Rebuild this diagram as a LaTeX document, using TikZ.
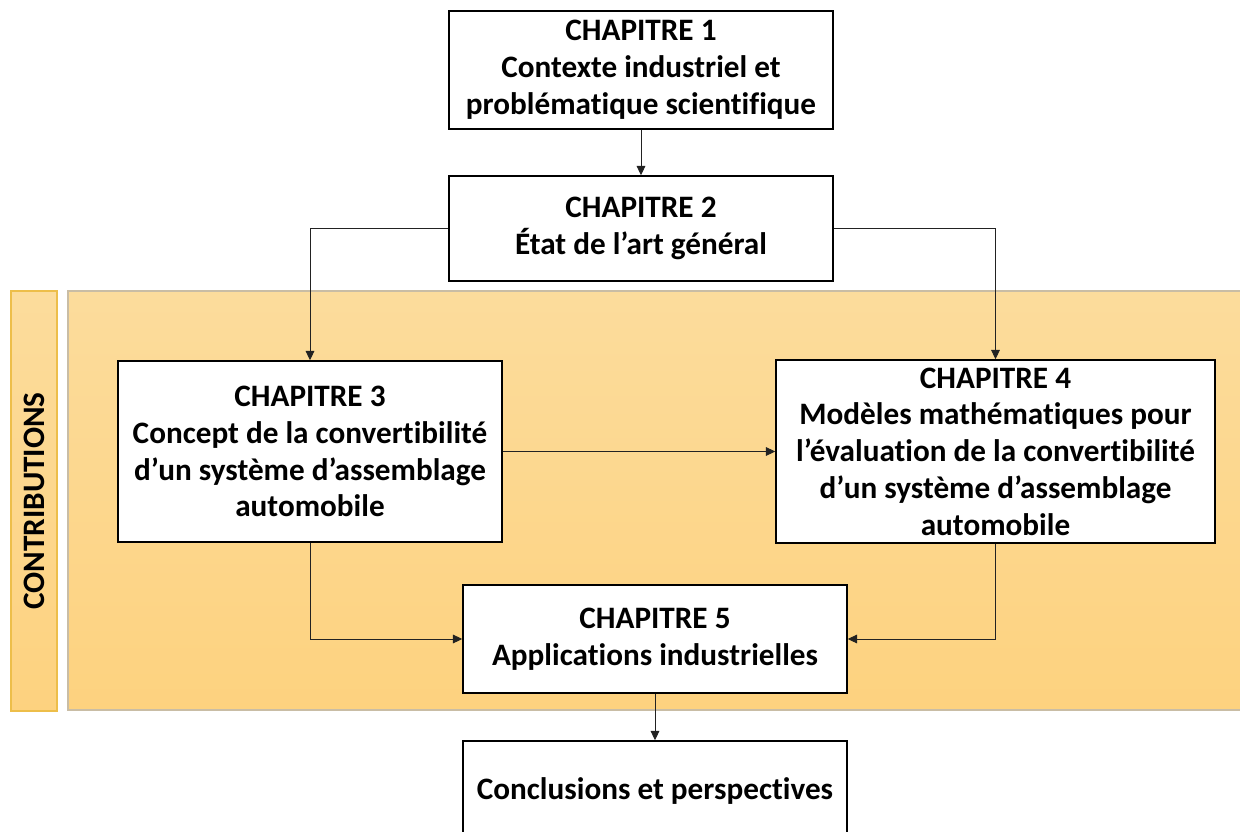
\documentclass[tikz,border=0pt]{standalone}
\usepackage{fontspec}
\setmainfont[Ligatures=NoCommon]{Carlito}
\usetikzlibrary{arrows.meta}
\definecolor{bgtop}{HTML}{FCDC9C}
\definecolor{bgbot}{HTML}{FDD27F}
\definecolor{bgedge}{HTML}{C9BDA5}
\definecolor{baredge}{HTML}{EDBE4A}
\definecolor{linec}{HTML}{222222}
\tikzset{
  chapbox/.style={draw=black, line width=1.1pt, fill=white, align=center,
    font=\fontsize{23.4pt}{27.6pt}\selectfont\bfseries, inner sep=0pt},
  arr/.style={draw=linec, line width=0.7pt, -{Triangle[length=7pt,width=6.5pt]}},
}
\begin{document}
\begin{tikzpicture}[x=0.75pt,y=-0.75pt]
\useasboundingbox (0,0) rectangle (1240,832);
\clip (0,0) rectangle (1240,832);
% background panels
\path[top color=bgtop, bottom color=bgbot, draw=bgedge, line width=0.8pt]
  (68,291) rectangle (1245,710);
\path[top color=bgtop, bottom color=bgbot, draw=baredge, line width=0.8pt]
  (11,291) rectangle (57,711);
\node[rotate=90, font=\fontsize{23.4pt}{27pt}\selectfont\bfseries] (contrib) at (34,501) {CONTRIBUTIONS};
% boxes
\node[chapbox, minimum width=384*0.75pt, minimum height=118*0.75pt] (b1) at (641,70)
  {CHAPITRE 1\\Contexte industriel et\\problématique scientifique};
\node[chapbox, minimum width=384*0.75pt, minimum height=105*0.75pt] (b2) at (641,228.5)
  {CHAPITRE 2\\État de l’art général};
\node[chapbox, minimum width=384*0.75pt, minimum height=181*0.75pt] (b3) at (310,451.5)
  {CHAPITRE 3\\Concept de la convertibilité\\d’un système d’assemblage\\automobile};
\node[chapbox, minimum width=439*0.75pt, minimum height=183*0.75pt] (b4) at (995.5,451.5)
  {CHAPITRE 4\\Modèles mathématiques pour\\l’évaluation de la convertibilité\\d’un système d’assemblage\\automobile};
\node[chapbox, minimum width=384*0.75pt, minimum height=108*0.75pt] (b5) at (655,639)
  {CHAPITRE 5\\Applications industrielles};
\node[chapbox, minimum width=384*0.75pt, minimum height=99*0.75pt] (b6) at (655,790.5)
  {Conclusions et perspectives};
% connectors
\draw[arr] (b1.south) -- (b2.north);
\draw[arr] (b2.west) -| (b3.north);
\draw[arr] (b2.east) -| (b4.north);
\draw[arr] (b3.east) -- (b4.west);
\draw[arr] (b3.south) |- (b5.west);
\draw[arr] (b4.south) |- (b5.east);
\draw[arr] (b5.south) -- (b6.north);
\end{tikzpicture}
\end{document}
